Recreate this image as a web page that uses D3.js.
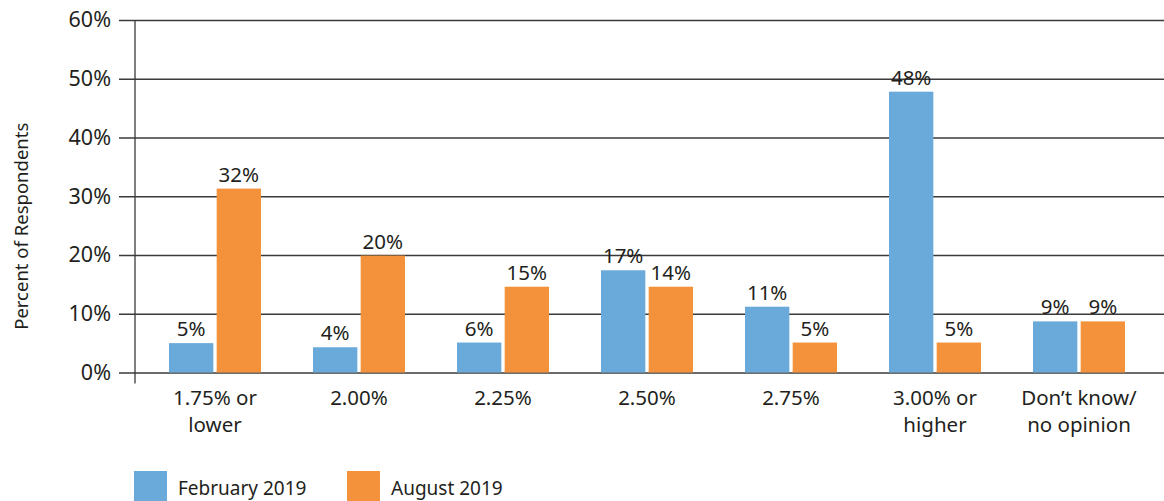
<!DOCTYPE html>
<html>
<head>
<meta charset="utf-8">
<script src="https://cdn.jsdelivr.net/npm/d3@7"></script>
<style>
  body { margin: 0; background: #fff; }
  svg { display: block; font-family: "Noto Sans", sans-serif; }
</style>
</head>
<body>
<svg id="chart" width="1164" height="501"></svg>
<script>
// data
let categories = ['1.75% or\nlower', '2.00%', '2.25%', '2.50%', '2.75%', '3.00% or\nhigher', 'Don\u2019t know/\nno opinion']
let series = ['February 2019', 'August 2019']
let febValues = [5.0, 4.3, 5.1, 17.4, 11.2, 47.8, 8.7]
let augValues = [31.3, 19.9, 14.6, 14.6, 5.1, 5.1, 8.7]
let febLabels = ['5%', '4%', '6%', '17%', '11%', '48%', '9%']
let augLabels = ['32%', '20%', '15%', '14%', '5%', '5%', '9%']
let yTicks = [0, 10, 20, 30, 40, 50, 60]

let colors = ['#6aaadb', '#f4923b']
let textColor = '#231f20'

let width = 1164
let axisX = 135
let y0 = 372.5, y1 = 20

const svg = d3.select('#chart')

let rows = categories.map((c, i) => ({
  cat: c,
  vals: [
    {key: series[0], v: febValues[i], label: febLabels[i]},
    {key: series[1], v: augValues[i], label: augLabels[i]}
  ]
}))

let x = d3.scaleBand()
  .domain(categories)
  .range([143, 1151])
  .paddingInner(0)
  .paddingOuter(0)

let x1 = d3.scaleBand()
  .domain(series)
  .range([26, 118])
  .paddingInner(0.07)

let y = d3.scaleLinear()
  .domain([0, 60])
  .range([y0, y1])

// y axis with gridlines
svg.append('g')
  .attr('transform', `translate(${axisX},0)`)
  .call(d3.axisLeft(y).tickValues(yTicks).tickFormat(d => d + '%').tickSize(16).tickPadding(8))
  .call(g => g.select('.domain').remove())
  .call(g => g.selectAll('.tick line')
    .attr('x1', -16)
    .attr('x2', width - axisX)
    .attr('stroke', '#3a3a3a')
    .attr('stroke-width', 1.3))
  .call(g => g.selectAll('.tick text')
    .attr('fill', textColor)
    .attr('font-size', 21.5)
    .attr('font-family', '"Noto Sans", sans-serif'))

// vertical axis line
svg.append('line')
  .attr('x1', axisX).attr('x2', axisX)
  .attr('y1', y(60)).attr('y2', y(0) + 11)
  .attr('stroke', '#3a3a3a')
  .attr('stroke-width', 1.3)

// bars
const groups = svg.append('g')
  .selectAll('g')
  .data(rows)
  .join('g')
    .attr('transform', d => `translate(${x(d.cat)},0)`)

groups.selectAll('rect')
  .data(d => d.vals)
  .join('rect')
    .attr('x', d => x1(d.key))
    .attr('width', x1.bandwidth())
    .attr('y', d => y(d.v))
    .attr('height', d => y(0) - y(d.v))
    .attr('fill', (d, i) => colors[i])

groups.selectAll('text.val')
  .data(d => d.vals)
  .join('text')
    .attr('class', 'val')
    .attr('x', d => x1(d.key) + x1.bandwidth() / 2)
    .attr('y', d => y(d.v) - 7)
    .attr('text-anchor', 'middle')
    .attr('font-size', 20.5)
    .attr('fill', textColor)
    .text(d => d.label)

// category labels
svg.append('g')
  .selectAll('text')
  .data(categories)
  .join('text')
    .attr('x', d => x(d) + x.bandwidth() / 2)
    .attr('y', 405)
    .attr('text-anchor', 'middle')
    .attr('font-size', 20.5)
    .attr('fill', textColor)
    .each(function(d) {
      d.split('\n').forEach((line, i) => {
        d3.select(this).append('tspan')
          .attr('x', x(d) + x.bandwidth() / 2)
          .attr('dy', i === 0 ? 0 : 27)
          .text(line)
      })
    })

// y axis title
svg.append('text')
  .attr('transform', `translate(28,${(y0 + y1) / 2 + 30}) rotate(-90)`)
  .attr('text-anchor', 'middle')
  .attr('font-size', 18.5)
  .attr('fill', textColor)
  .text('Percent of Respondents')

// legend
let legendX = [134, 347]
const legend = svg.append('g')
  .selectAll('g')
  .data(series)
  .join('g')
    .attr('transform', (d, i) => `translate(${legendX[i]},471)`)

legend.append('rect')
  .attr('width', 33)
  .attr('height', 30)
  .attr('fill', (d, i) => colors[i])

legend.append('text')
  .attr('x', 44)
  .attr('y', 24)
  .attr('font-size', 19)
  .attr('fill', textColor)
  .text(d => d)
</script>
</body>
</html>
